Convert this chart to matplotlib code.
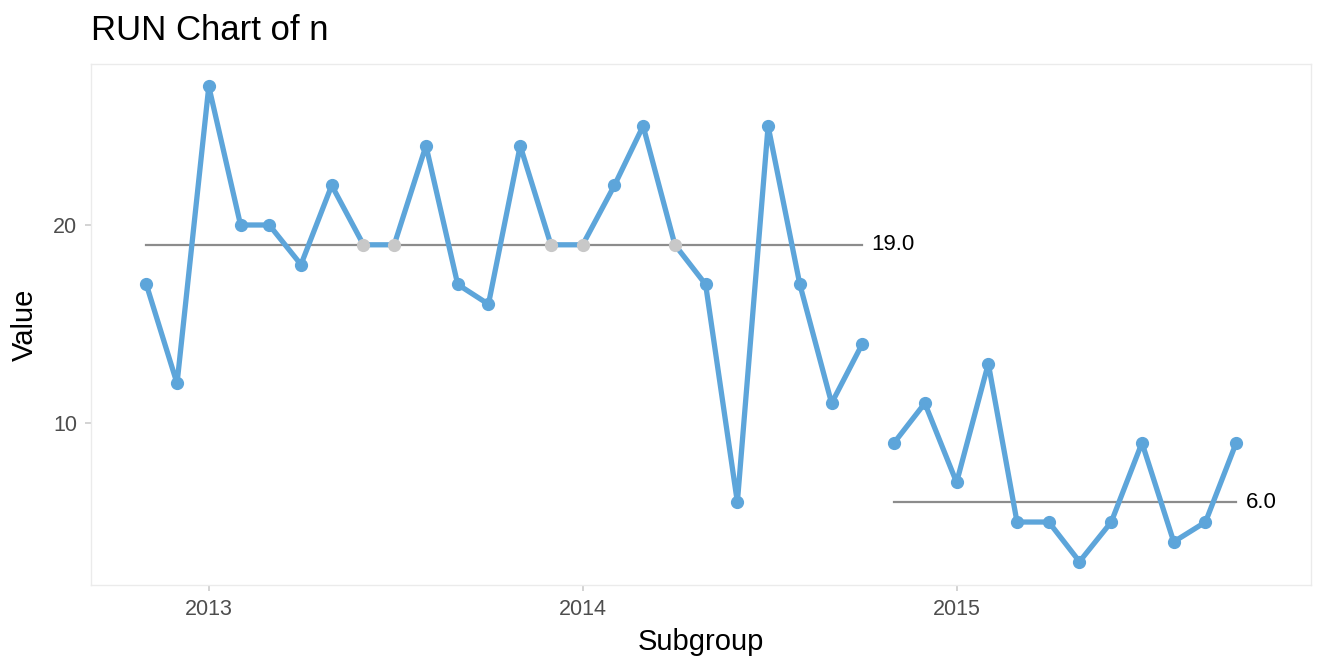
import numpy as np
import pandas as pd
import matplotlib
matplotlib.use("Agg")
import matplotlib.pyplot as plt
import matplotlib.dates as mdates

plt.rcParams['font.family'] = ['Liberation Sans', 'DejaVu Sans']

# monthly subgroups, two parts
months = pd.date_range('2012-11-01', periods=36, freq='MS')
part1_values = [17, 12, 27, 20, 20, 18, 22, 19, 19, 24, 17, 16,
                24, 19, 19, 22, 25, 19, 17, 6, 25, 17, 11, 14]
part2_values = [9, 11, 7, 13, 5, 5, 3, 5, 9, 4, 5, 9]
parts = [(months[:24], part1_values), (months[24:], part2_values)]

line_col = '#5DA5DA'
cl_col = '#8C8C8C'
off_col = '#C8C8C8'

fig = plt.figure(figsize=(13.44, 6.72), dpi=100)
ax = fig.add_axes([91/1344, 1 - 585/672, (1311 - 91)/1344, (585 - 64)/672])

for x, y in parts:
    y = np.array(y)
    med = np.median(y)
    ax.plot([x[0], x[-1]], [med, med], color=cl_col, lw=1.6, zorder=1)
    ax.text(x[-1] + pd.Timedelta(days=9), med, f'{med:.1f}',
            va='center', ha='left', fontsize=16, color='black')
    ax.plot(x, y, color=line_col, lw=3.8, zorder=2, solid_joinstyle='round')
    on_cl = y == med
    ax.plot(x[~on_cl], y[~on_cl], 'o', color=line_col, ms=8.5, zorder=3)
    ax.plot(x[on_cl], y[on_cl], 'o', color=off_col, ms=8.5, zorder=3)

ax.set_xlim(pd.Timestamp('2012-09-08'), pd.Timestamp('2015-12-13'))
ax.set_ylim(1.82, 28.13)
ax.xaxis.set_major_locator(mdates.YearLocator())
ax.xaxis.set_major_formatter(mdates.DateFormatter('%Y'))
ax.set_yticks([10, 20])

for s in ax.spines.values():
    s.set_color('#EBEBEB')
    s.set_linewidth(1.0)
ax.tick_params(length=4, width=1.2, color='#CCCCCC', labelcolor='#4D4D4D',
               labelsize=15.5, pad=6)

ax.set_xlabel('Subgroup', fontsize=21, labelpad=6)
ax.set_ylabel('Value', fontsize=21, labelpad=10)
fig.text(91/1344, 1 - 40/672, 'RUN Chart of n', fontsize=25, ha='left', va='baseline')

fig.savefig('out.png', dpi=100)
